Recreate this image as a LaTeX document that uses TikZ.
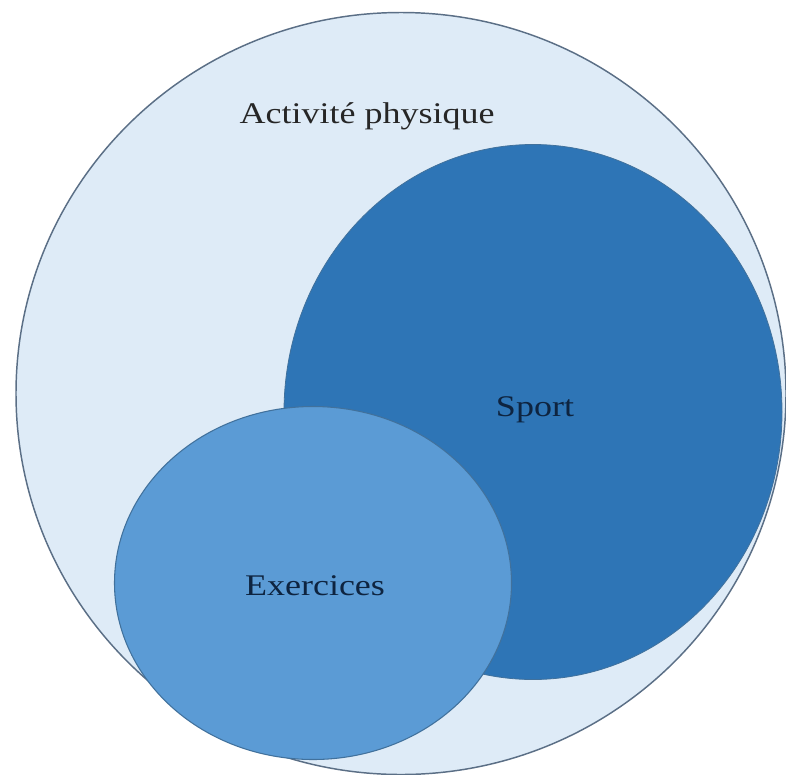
\documentclass[tikz,border=0pt]{standalone}
\usepackage{fontspec}
\setmainfont{Liberation Serif}[FakeStretch=1.2]
\usetikzlibrary{shapes.geometric}
\definecolor{outerfill}{HTML}{DEEBF7}
\definecolor{outerline}{HTML}{5B6F86}
\definecolor{sportfill}{HTML}{2E75B6}
\definecolor{exfill}{HTML}{5B9BD5}
\definecolor{edgeline}{HTML}{41719C}
\definecolor{txtdark}{HTML}{0E2440}
\definecolor{txtgray}{HTML}{262626}
\tikzset{
  blob/.style={ellipse, inner sep=0pt, outer sep=0pt, line width=1.1pt},
  lbl/.style={font=\fontsize{22.5pt}{26pt}\selectfont, inner sep=0pt}
}
\begin{document}
\begin{tikzpicture}[x=0.75pt,y=-0.75pt]
\useasboundingbox (0,0) rectangle (786,775);
\fill[white] (0,0) rectangle (786,775);
\node[blob, draw=outerline, fill=outerfill, minimum width=770*0.75pt, minimum height=762*0.75pt] (act) at (401,393.5) {};
\node[blob, draw=edgeline, fill=sportfill, line width=0.6pt, minimum width=498*0.75pt, minimum height=535*0.75pt] (sport) at (533,412) {};
\node[blob, draw=edgeline, fill=exfill, line width=0.8pt, minimum width=397*0.75pt, minimum height=353*0.75pt] (ex) at (313,583) {};
\node[lbl, text=txtgray] (tact) at (367,116) {Activité physique};
\node[lbl, text=txtdark] (tsport) at (535,410) {Sport};
\node[lbl, text=txtdark] (tex) at (315,586) {Exercices};
\end{tikzpicture}
\end{document}
